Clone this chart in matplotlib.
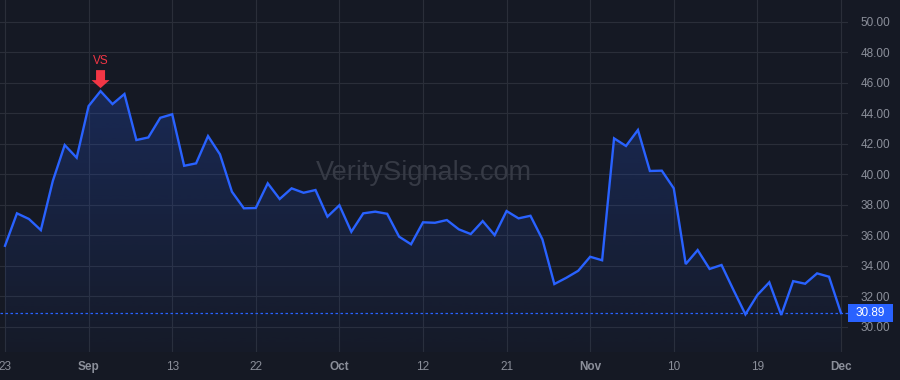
import numpy as np
import matplotlib
matplotlib.use("Agg")
import matplotlib.pyplot as plt
import matplotlib.transforms as mtransforms
from matplotlib.patches import Polygon, Rectangle

# Daily closes (trading days)
prices = [35.30, 37.43, 37.06, 36.33, 39.55, 41.91, 41.08, 44.47, 45.45, 44.60,
          45.26, 42.24, 42.41, 43.70, 43.93, 40.55, 40.71, 42.50, 41.30, 38.85,
          37.76, 37.78, 39.40, 38.37, 39.07, 38.78, 38.96, 37.21, 37.96, 36.22,
          37.43, 37.54, 37.40, 35.90, 35.40, 36.84, 36.81, 36.99, 36.38, 36.07,
          36.92, 36.00, 37.58, 37.10, 37.27, 35.72, 32.79, 33.20, 33.66, 34.58,
          34.35, 42.35, 41.85, 42.90, 40.21, 40.23, 39.07, 34.10, 35.02, 33.78,
          34.04, 32.40, 30.80, 32.07, 32.90, 30.76, 32.98, 32.81, 33.49, 33.27,
          30.89]
tick_pos = [0, 7, 14, 21, 28, 35, 42, 49, 56, 63, 70]
tick_labels = ['23', 'Sep', '13', '22', 'Oct', '12', '21', 'Nov', '10', '19', 'Dec']
month_labels = ['Sep', 'Oct', 'Nov', 'Dec']
y_ticks = [30, 32, 34, 36, 38, 40, 42, 44, 46, 48, 50]
signal_idx = 8
signal_text = 'VS'
last_price = prices[-1]

bg = '#151924'
grid_c = '#2a2e39'
blue = '#2962ff'
red = '#f23645'
txt_c = '#8b8f9a'

plt.rcParams['font.family'] = ['Liberation Sans', 'DejaVu Sans']

x = np.arange(len(prices))
y = np.array(prices)

fig = plt.figure(figsize=(9, 3.8), dpi=100, facecolor=bg)
ax = fig.add_axes([0, 1 - 352 / 380, 848 / 900, 352 / 380])
ax.set_facecolor(bg)

ymin, ymax = 28.33, 51.43
ax.set_xlim(-0.42, 70.59)
ax.set_ylim(ymin, ymax)

# grid
ax.set_xticks(tick_pos)
ax.set_yticks(y_ticks)
ax.grid(True, color=grid_c, linewidth=0.8)
ax.set_axisbelow(True)
for s in ax.spines.values():
    s.set_visible(False)

# watermark
ax.text(0.5, 0.508, 'VeritySignals.com', transform=ax.transAxes, ha='center',
        va='center', fontsize=19.5, color='#363a45', zorder=1)

# gradient area under the line
poly = ax.fill_between(x, y, ymin, color='none', linewidth=0)
path = poly.get_paths()[0]
clip = Polygon(path.vertices, closed=True, transform=ax.transData, facecolor='none',
               edgecolor='none')
ax.add_patch(clip)
grad = np.zeros((256, 1, 4))
grad[:, 0, 0] = 41 / 255
grad[:, 0, 1] = 98 / 255
grad[:, 0, 2] = 1.0
grad[:, 0, 3] = np.linspace(0.22, 0.02, 256)
im = ax.imshow(grad, extent=[x[0], x[-1], ymin, y.max()], origin='upper',
               aspect='auto', zorder=2)
im.set_clip_path(clip)

ax.plot(x, y, color=blue, linewidth=1.7, zorder=3, solid_joinstyle='miter')

# last price dotted line + label
ax.axhline(last_price, color=blue, linewidth=0.9, linestyle=(0, (2, 2)), zorder=2)
lbl_tr = mtransforms.blended_transform_factory(fig.transFigure, ax.transData)
ax.add_patch(Rectangle((848 / 900, last_price - 0.56), 45 / 900, 1.12,
                       transform=lbl_tr, facecolor=blue, edgecolor='none',
                       clip_on=False, zorder=5))
ax.text(870.5 / 900, last_price, f'{last_price:.2f}', transform=lbl_tr,
        ha='center', va='center', color='white', fontsize=8.5, zorder=6)

# signal arrow marker
arrow_tr = fig.dpi_scale_trans + mtransforms.ScaledTranslation(signal_idx, y[signal_idx], ax.transData)
px = 1 / 100.0
arrow = Polygon([(0, 3 * px), (-9 * px, 11 * px), (-4.5 * px, 11 * px),
                 (-4.5 * px, 21 * px), (4.5 * px, 21 * px), (4.5 * px, 11 * px),
                 (9 * px, 11 * px)], closed=True, transform=arrow_tr,
                facecolor=red, edgecolor='none', zorder=6, clip_on=False)
ax.add_patch(arrow)
ax.annotate(signal_text, xy=(signal_idx, y[signal_idx]), xytext=(0, 22),
            textcoords='offset points', ha='center', va='center',
            color=red, fontsize=8.5, zorder=6)

# axes ticks
ax.yaxis.tick_right()
ax.set_yticklabels([f'{v:.2f}' for v in y_ticks])
ax.tick_params(axis='y', length=0, pad=9, labelcolor=txt_c, labelsize=8.5)
ax.set_xticklabels(tick_labels)
ax.tick_params(axis='x', length=0, pad=6.5, labelcolor=txt_c, labelsize=8.5)
for t in ax.get_xticklabels():
    if t.get_text() in month_labels:
        t.set_fontweight('bold')

fig.savefig('out.png', dpi=100, facecolor=bg)
